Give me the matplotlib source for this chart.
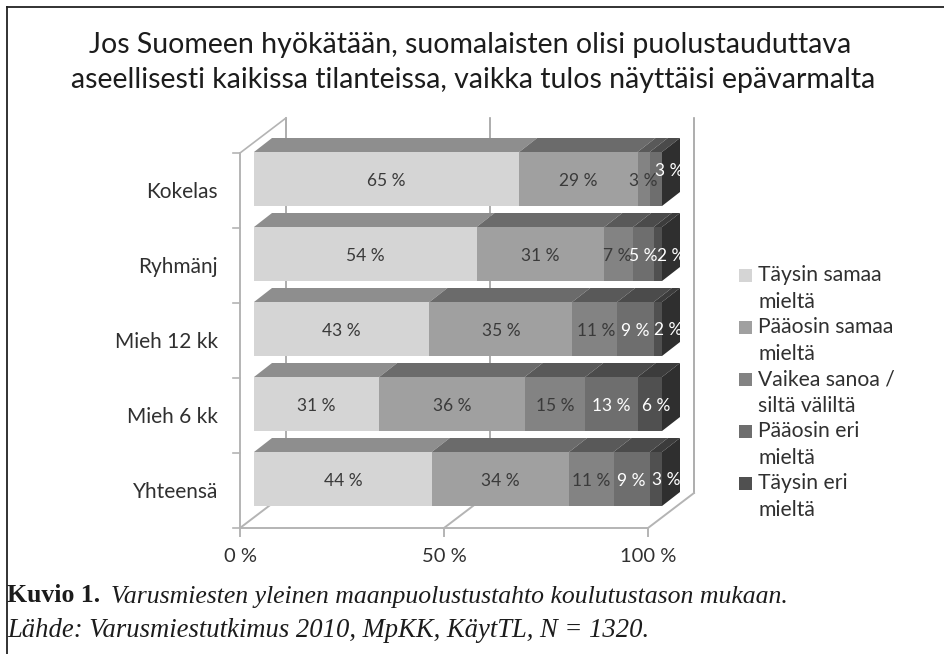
import matplotlib
matplotlib.use('Agg')
from matplotlib import pyplot as plt
from matplotlib.patches import Polygon, Rectangle

categories = ['Kokelas', 'Ryhmänj', 'Mieh 12 kk', 'Mieh 6 kk', 'Yhteensä']
taysin_samaa = [65, 54, 43, 31, 44]
paaosin_samaa = [29, 31, 35, 36, 34]
vaikea_sanoa = [3, 7, 11, 15, 11]
paaosin_eri = [3, 5, 9, 13, 9]
taysin_eri = [0, 2, 2, 6, 3]
series_names = ['Täysin samaa\nmieltä', 'Pääosin samaa\nmieltä', 'Vaikea sanoa /\nsiltä väliltä',
                'Pääosin eri\nmieltä', 'Täysin eri\nmieltä']
x_ticks = [0, 50, 100]
x_tick_labels = ['0 %', '50 %', '100 %']
title = 'Jos Suomeen hyökätään, suomalaisten olisi puolustauduttava\naseellisesti kaikissa tilanteissa, vaikka tulos näyttäisi epävarmalta'

series = [taysin_samaa, paaosin_samaa, vaikea_sanoa, paaosin_eri, taysin_eri]
front_cols = ['#d5d5d5', '#a0a0a0', '#838383', '#6e6e6e', '#505050']
top_cols = ['#8e8e8e', '#6b6b6b', '#595959', '#4b4b4b', '#3c3c3c']
side_col = '#2f2f2f'
line_col = '#b4b4b4'
text_col = '#303030'
W, H = 944, 654

fig = plt.figure(figsize=(W / 100, H / 100), dpi=100)
plt.rcParams['font.family'] = ['Lato', 'DejaVu Sans']

# background layer in pixels, for the page frame and the caption
bg = fig.add_axes([0, 0, 1, 1])
bg.set_xlim(0, W)
bg.set_ylim(H, 0)
bg.axis('off')
bg.plot([7, W], [7, 7], color='#222222', lw=1.3)
bg.plot([7, 7], [7, H], color='#222222', lw=1.3)

# data layer: x is percent, y is the category index
left_px, right_px = 254, 662
top_px, bottom_px = 117, 567
px_x = (right_px - left_px) / 100
px_y = 75
ax = fig.add_axes([left_px / W, 1 - bottom_px / H, (right_px - left_px) / W, (bottom_px - top_px) / H])
ax.set_xlim(0, 100)
ax.set_ylim((bottom_px - 179) / px_y, (top_px - 179) / px_y)
ax.axis('off')
ax.patch.set_visible(False)

bar_h = 54 / px_y
dx, dy = 18 / px_x, -14 / px_y
floor_x = -14 / px_x
box_top = -26 / px_y        # top of the front left edge
floor_y = 349 / px_y        # front floor edge
wall_x, wall_y = 46 / px_x, -35 / px_y

# walls and floor of the 3d box
for tick, tick_label in zip(x_ticks, x_tick_labels):
    bx = floor_x + tick + wall_x
    ax.plot([bx, bx], [box_top + wall_y, floor_y + wall_y], color='#a0a0a0', lw=1.2, clip_on=False, zorder=1)
    ax.plot([floor_x + tick, bx], [floor_y, floor_y + wall_y], color=line_col, lw=1.4, clip_on=False, zorder=1)
    ax.plot([floor_x + tick] * 2, [floor_y, floor_y + 8 / px_y], color=line_col, lw=1.4, clip_on=False, zorder=1)
    ax.text(floor_x + tick, floor_y + 29 / px_y, tick_label, ha='center', va='center', fontsize=14.5, color=text_col)
ax.plot([floor_x, floor_x + 100], [floor_y, floor_y], color=line_col, lw=1.4, clip_on=False, zorder=1)
ax.plot([floor_x, floor_x], [box_top, floor_y], color=line_col, lw=1.4, clip_on=False, zorder=1)
ax.plot([floor_x, floor_x + wall_x], [box_top, box_top + wall_y], color=line_col, lw=1.2, clip_on=False, zorder=1)
for i in range(len(categories) + 1):
    ax.plot([floor_x - 7 / px_x, floor_x], [i + box_top] * 2, color=line_col, lw=1.2, clip_on=False, zorder=1)

# label nudges in pixels for the ones that were pushed sideways: (category, series): (dx, dy)
nudges = {(0, 3): (13, -10), (1, 2): (-1, 0), (1, 4): (13, 0), (2, 2): (2, 0), (2, 4): (10, -1), (3, 4): (6, 0), (4, 4): (10, -1)}

for i, name in enumerate(categories):
    row = [s[i] for s in series]
    total = sum(row)
    pos = 0
    y0, y1 = i - bar_h / 2, i + bar_h / 2
    for j, v in enumerate(row):
        if v == 0:
            continue
        a = pos / total * 100
        b = (pos + v) / total * 100
        zo = 3 + i
        ax.add_patch(Polygon([(a, y0), (b, y0), (b + dx, y0 + dy), (a + dx, y0 + dy)], fc=top_cols[j], ec='none', zorder=zo, clip_on=False))
        ax.add_patch(Rectangle((a, y0), b - a, bar_h, fc=front_cols[j], ec='none', zorder=zo + 0.1, clip_on=False))
        pos += v
        nx, ny = nudges.get((i, j), (0, 0))
        ax.text((a + b) / 2 + nx / px_x, i + 2 / px_y + ny / px_y, '%d %%' % v, ha='center', va='center',
                fontsize=12.5, color='#3a3a3a' if j < 3 else 'white', zorder=20)
    ax.add_patch(Polygon([(100, y0), (100 + dx, y0 + dy), (100 + dx, y1 + dy), (100, y1)], fc=side_col, ec='none', zorder=3.2 + i, clip_on=False))
    ax.text(-36 / px_x, i + 13 / px_y, name, ha='right', va='center', fontsize=15, color=text_col)

title_lines = title.split('\n')
fig.text(470 / W, 1 - 53 / H, title_lines[0], ha='center', va='baseline', fontsize=20.5, color='#1c1c1c')
fig.text(473 / W, 1 - 88 / H, title_lines[1], ha='center', va='baseline', fontsize=20.5, color='#1c1c1c')

# legend, each entry lines up with its first text line
for j, label in enumerate(series_names):
    yy = 275 + 52 * j
    bg.add_patch(Rectangle((739, yy - 6.5), 13, 13, fc=front_cols[j], ec='none'))
    for k, part in enumerate(label.split('\n')):
        bg.text(758, yy + 26.5 * k, part, ha='left', va='center', fontsize=15.2, color=text_col)

serif = ['Liberation Serif', 'DejaVu Serif']
cap = bg.text(7, 607.5, 'Kuvio 1.', family=serif, weight='bold', fontsize=18.5, color='#1c1c1c', ha='left', va='bottom')
bg.annotate('Varusmiesten yleinen maanpuolustustahto koulutustason mukaan.', xy=(1, 0), xycoords=cap, xytext=(8, 0),
            textcoords='offset points', family=serif, style='italic', fontsize=18.5, color='#1c1c1c', va='bottom')
bg.text(7, 637, 'Lähde: Varusmiestutkimus 2010, MpKK, KäytTL, N = 1320.', family=serif, style='italic', fontsize=19.2,
        color='#1c1c1c', ha='left', va='baseline')

fig.savefig('out.png', dpi=100)
